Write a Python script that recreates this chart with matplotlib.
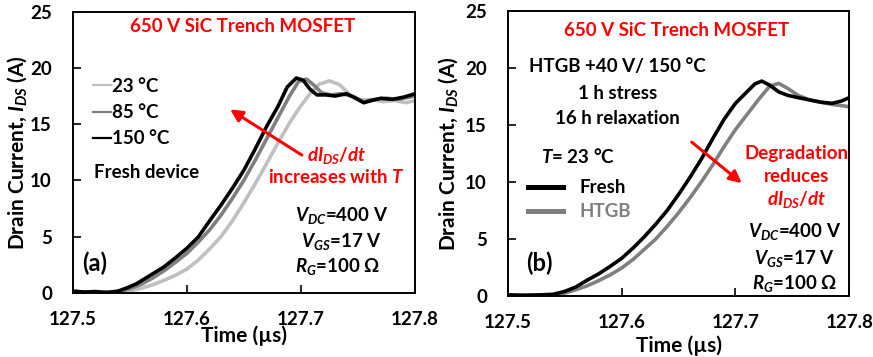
import matplotlib
matplotlib.use('Agg')
import matplotlib.pyplot as plt

plt.rcParams['font.family'] = ['Lato', 'DejaVu Sans']
plt.rcParams['font.weight'] = 'bold'
plt.rcParams['mathtext.fontset'] = 'custom'
plt.rcParams['mathtext.it'] = 'Lato:italic:bold'
plt.rcParams['mathtext.rm'] = 'Lato:bold'
plt.rcParams['mathtext.bf'] = 'Lato:bold'

# (a) fresh device at three temperatures
t150 = [127.500, 127.510, 127.520, 127.530, 127.540, 127.548, 127.556, 127.564, 127.572, 127.580,
        127.590, 127.600, 127.610, 127.620, 127.630, 127.640, 127.650, 127.660, 127.670, 127.680,
        127.688, 127.696, 127.702, 127.708, 127.714, 127.722, 127.730, 127.740, 127.748, 127.755,
        127.762, 127.770, 127.780, 127.790, 127.800]
i150 = [0.15, 0.05, 0.1, 0.0, 0.15, 0.45, 0.8, 1.3, 1.8, 2.3,
        3.1, 3.95, 4.95, 6.4, 7.8, 9.3, 10.9, 12.8, 14.8, 16.6,
        18.3, 19.1, 18.9, 18.1, 17.6, 17.6, 17.5, 17.7, 17.3, 16.9,
        17.1, 17.3, 17.2, 17.4, 17.7]

t85 = [127.500, 127.520, 127.540, 127.550, 127.560, 127.570, 127.580, 127.590, 127.600, 127.610,
       127.620, 127.630, 127.640, 127.650, 127.660, 127.670, 127.680, 127.690, 127.698, 127.705,
       127.711, 127.718, 127.726, 127.735, 127.745, 127.755, 127.765, 127.775, 127.785, 127.800]
i85 = [0.1, 0.05, 0.1, 0.35, 0.75, 1.3, 1.95, 2.7, 3.5, 4.5,
       5.6, 6.9, 8.4, 10.0, 11.8, 13.7, 15.6, 17.5, 18.8, 19.0,
       18.5, 17.8, 17.6, 17.7, 17.5, 17.0, 17.2, 17.3, 17.2, 17.5]

t23 = [127.500, 127.520, 127.540, 127.550, 127.560, 127.570, 127.580, 127.590, 127.600, 127.610,
       127.620, 127.630, 127.640, 127.650, 127.660, 127.670, 127.680, 127.690, 127.699, 127.708,
       127.716, 127.725, 127.734, 127.743, 127.752, 127.762, 127.772, 127.782, 127.792, 127.800]
i23 = [0.05, 0.1, 0.0, 0.15, 0.4, 0.7, 1.1, 1.55, 2.1, 2.9,
       3.9, 5.0, 6.4, 8.0, 9.7, 11.5, 13.35, 15.1, 16.5, 17.7,
       18.55, 18.85, 18.5, 17.6, 17.1, 17.2, 17.0, 17.1, 16.9, 17.1]

# (b) fresh vs after HTGB stress
t_fresh = [127.500, 127.515, 127.530, 127.540, 127.550, 127.560, 127.570, 127.580, 127.590, 127.600,
           127.610, 127.620, 127.630, 127.640, 127.650, 127.660, 127.670, 127.680, 127.690, 127.700,
           127.710, 127.717, 127.723, 127.730, 127.738, 127.746, 127.755, 127.765, 127.775, 127.785,
           127.793, 127.800]
i_fresh = [0.1, 0.05, 0.1, 0.15, 0.4, 0.8, 1.4, 1.95, 2.6, 3.3,
           4.2, 5.2, 6.3, 7.5, 8.9, 10.4, 12.0, 13.8, 15.5, 16.9,
           17.9, 18.6, 18.85, 18.5, 17.9, 17.6, 17.4, 17.2, 17.0, 16.9,
           17.1, 17.4]

t_htgb = [127.500, 127.520, 127.540, 127.550, 127.560, 127.570, 127.580, 127.590, 127.600, 127.610,
          127.620, 127.630, 127.640, 127.650, 127.660, 127.670, 127.680, 127.690, 127.700, 127.710,
          127.720, 127.730, 127.738, 127.746, 127.755, 127.765, 127.775, 127.785, 127.793, 127.800]
i_htgb = [0.05, 0.1, 0.05, 0.25, 0.55, 0.9, 1.35, 1.85, 2.45, 3.2,
          4.1, 5.0, 6.1, 7.3, 8.6, 10.0, 11.5, 13.1, 14.6, 15.9,
          17.2, 18.4, 18.65, 18.2, 17.6, 17.2, 17.0, 16.8, 16.7, 16.6]

xticks = [127.5, 127.6, 127.7, 127.8]
yticks = [0, 5, 10, 15, 20, 25]

fs = 13.5
red = '#ff0000'

fig = plt.figure(figsize=(8.73, 3.57), dpi=100)
ax1 = fig.add_axes([0.0833, 0.1801, 0.3921, 0.7871])
ax2 = fig.add_axes([0.5816, 0.1709, 0.3913, 0.7983])

for ax in (ax1, ax2):
    ax.set_xlim(127.5, 127.8)
    ax.set_ylim(0, 25)
    ax.set_xticks(xticks)
    ax.set_xticklabels(['%.1f' % v for v in xticks])
    ax.set_yticks(yticks)
    ax.tick_params(direction='in', length=6, width=1.2, labelsize=fs, pad=15)
    ax.tick_params(axis='x', pad=13)
    for s in ax.spines.values():
        s.set_linewidth(1.4)
    ax.set_xlabel('Time (µs)', fontsize=fs + 1.5, fontweight='bold')
    ax.set_ylabel('Drain Current, $I_{DS}$ (A)', fontsize=fs + 1.5, fontweight='bold')

ax1.xaxis.set_label_coords(0.5, -0.118)
ax2.xaxis.set_label_coords(0.5, -0.14)
ax1.yaxis.set_label_coords(-0.128, 0.5)
ax2.yaxis.set_label_coords(-0.14, 0.5)

# panel (a)
l23, = ax1.plot(t23, i23, color='#c0c0c0', lw=2.6, label='23 °C')
l85, = ax1.plot(t85, i85, color='#7f7f7f', lw=2.6, label='85 °C')
l150, = ax1.plot(t150, i150, color='#000000', lw=2.6, label='150 °C')
leg1 = ax1.legend(handles=[l23, l85, l150], loc='upper left', bbox_to_anchor=(0.058, 0.765),
                  frameon=False, fontsize=fs, handlelength=1.0, handletextpad=0.05,
                  labelspacing=0.5, borderpad=0, borderaxespad=0)
for ln in leg1.get_lines():
    ln.set_linewidth(1.6)

ax1.text(127.6493, 23.67, '650 V SiC Trench MOSFET', color=red, fontsize=fs, ha='center', va='center')
ax1.text(127.5187, 10.68, 'Fresh device', fontsize=fs, ha='left', va='center')
ax1.text(127.7316, 12.25, '$dI_{DS}/dt$', color=red, fontsize=fs, ha='center', va='center')
ax1.text(127.7316, 10.32, 'increases with $T$', color=red, fontsize=fs, ha='center', va='center')
ax1.text(127.7358, 6.91, '$V_{DC}$=400 V', fontsize=fs, ha='center', va='center')
ax1.text(127.735, 4.54, '$V_{GS}$=17 V', fontsize=fs, ha='center', va='center')
ax1.text(127.7325, 2.31, '$R_{G}$=100 Ω', fontsize=fs, ha='center', va='center')
ax1.text(127.5195, 2.64, '(a)', fontsize=17, ha='center', va='center')
ax1.annotate('', xy=(127.6379, 16.3), xytext=(127.7007, 12.25),
             arrowprops=dict(arrowstyle='-|>', color=red, lw=2.2, mutation_scale=18,
                             shrinkA=0, shrinkB=0))

# panel (b)
lh, = ax2.plot(t_htgb, i_htgb, color='#808080', lw=2.6, label='HTGB')
lf, = ax2.plot(t_fresh, i_fresh, color='#000000', lw=2.6, label='Fresh')
leg2 = ax2.legend(handles=[lf, lh], loc='upper left', bbox_to_anchor=(0.058, 0.41),
                  frameon=False, fontsize=fs, handlelength=1.9, handletextpad=0.85,
                  labelspacing=0.38, borderpad=0, borderaxespad=0)
for ln in leg2.get_lines():
    ln.set_linewidth(3.6)
leg2.get_texts()[1].set_color('#808080')

ax2.text(127.6484, 23.33, '650 V SiC Trench MOSFET', color=red, fontsize=fs, ha='center', va='center')
ax2.text(127.5964, 20.11, 'HTGB +40 V/ 150 °C', fontsize=fs, ha='center', va='center')
ax2.text(127.5964, 17.78, '1 h stress', fontsize=fs, ha='center', va='center')
ax2.text(127.5964, 15.53, '16 h relaxation', fontsize=fs, ha='center', va='center')
ax2.text(127.5617, 12.28, '$T$= 23 °C', fontsize=fs, ha='center', va='center')
ax2.text(127.7538, 12.46, 'Degradation', color=red, fontsize=fs, ha='center', va='center')
ax2.text(127.7538, 10.46, 'reduces', color=red, fontsize=fs, ha='center', va='center')
ax2.text(127.7538, 8.48, '$dI_{DS}/dt$', color=red, fontsize=fs, ha='center', va='center')
ax2.text(127.7523, 5.64, '$V_{DC}$=400 V', fontsize=fs, ha='center', va='center')
ax2.text(127.7514, 3.31, '$V_{GS}$=17 V', fontsize=fs, ha='center', va='center')
ax2.text(127.7523, 1.11, '$R_{G}$=100 Ω', fontsize=fs, ha='center', va='center')
ax2.text(127.5275, 2.87, '(b)', fontsize=17, ha='center', va='center')
ax2.annotate('', xy=(127.7055, 9.9), xytext=(127.6616, 13.5),
             arrowprops=dict(arrowstyle='-|>', color=red, lw=2.2, mutation_scale=18,
                             shrinkA=0, shrinkB=0))

fig.savefig('out.png', dpi=100)
